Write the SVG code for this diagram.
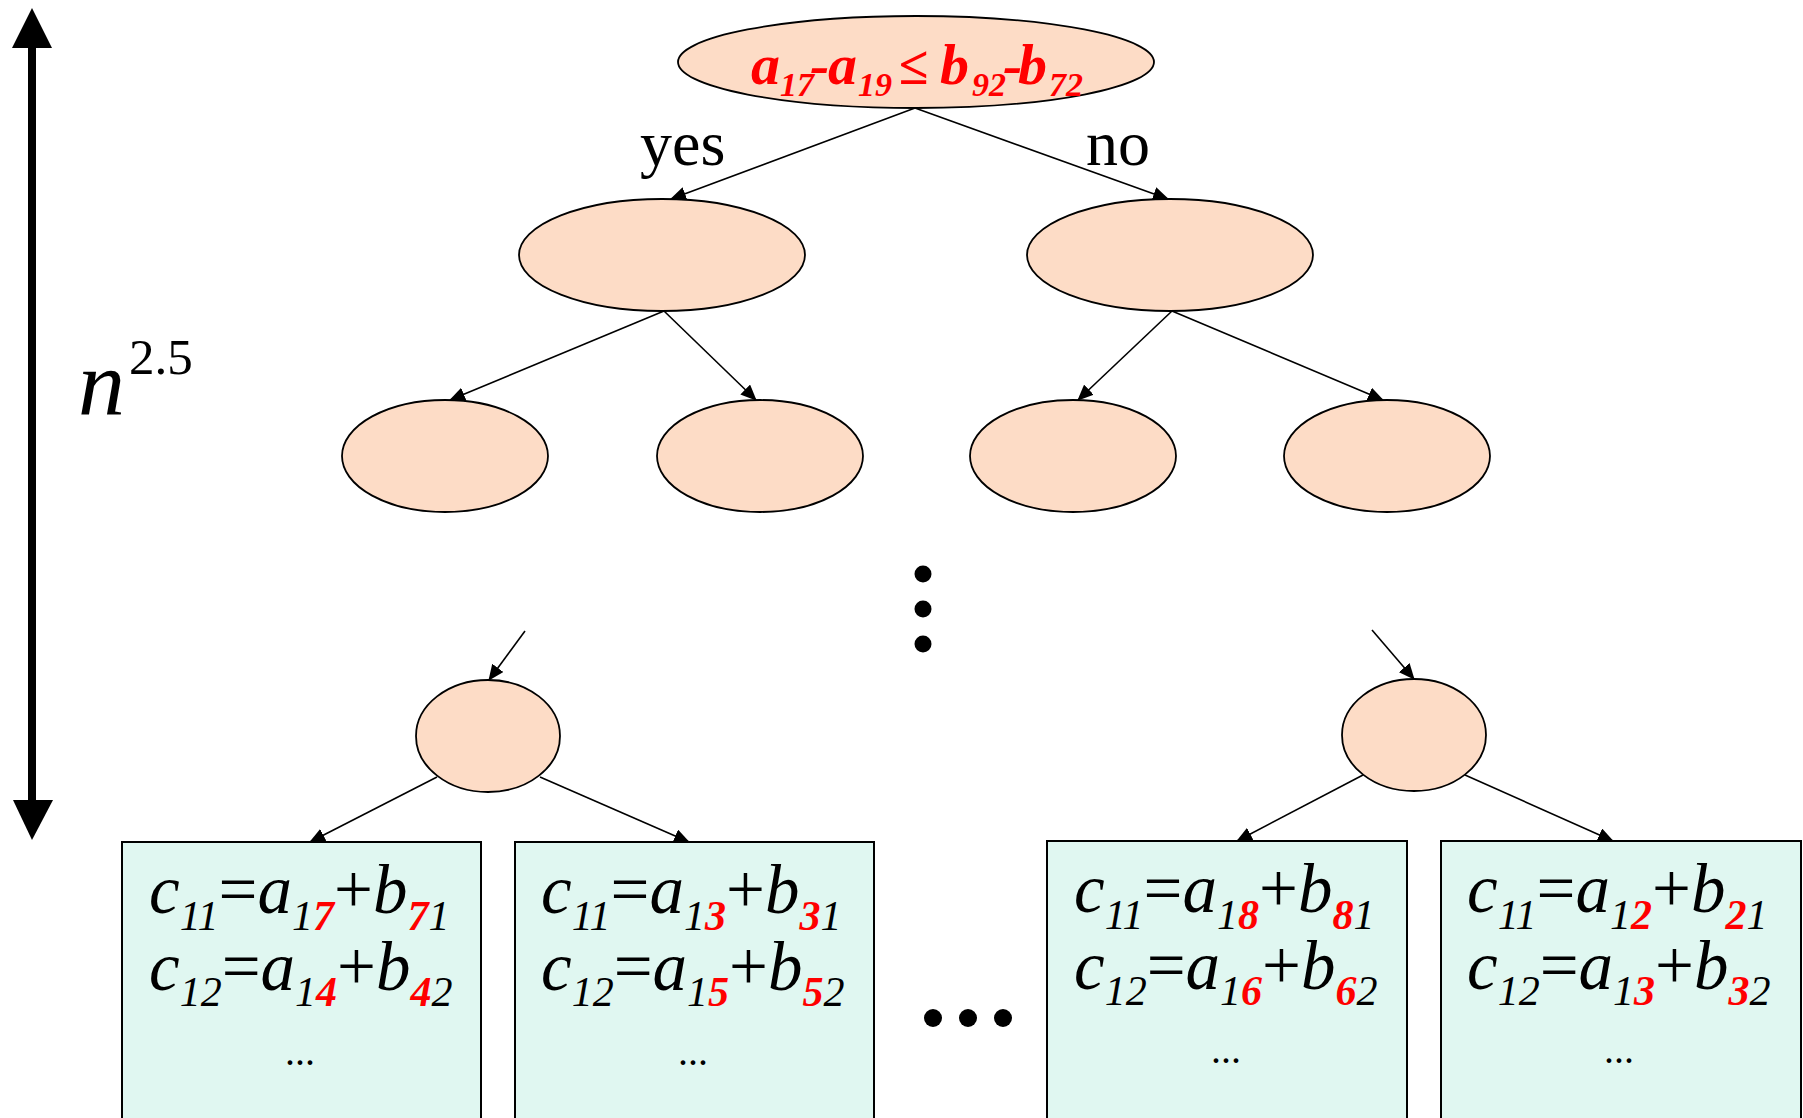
<svg xmlns="http://www.w3.org/2000/svg" width="1803" height="1118" viewBox="0 0 1803 1118">
  <style>
    .node { fill: #FDDCC6; stroke: #000; stroke-width: 1.8; }
    .leaf { fill: #E0F7F1; stroke: #000; stroke-width: 2; }
    .edge { stroke: #000; stroke-width: 1.6; fill: none; marker-end: url(#tip); }
    .serif { font-family: "Liberation Serif", "Times New Roman", serif; }
    .it { font-style: italic; }
    .red { fill: #FF0000; font-weight: bold; font-style: italic; }
    .main { font-size: 69px; }
    .sub { font-size: 42px; }
    .cond { font-family: "Liberation Serif", "Times New Roman", serif; fill: #FF0000; font-weight: bold; font-style: italic; }
    .dot { fill: #000; }
  </style>
  <defs>
    <marker id="tip" markerUnits="userSpaceOnUse" markerWidth="16" markerHeight="14" refX="15" refY="7" orient="auto">
      <path d="M0,0 L16,7 L0,14 z" fill="#000"/>
    </marker>
  </defs>

  <rect width="1803" height="1118" fill="#fff"/>

  <!-- depth axis -->
  <g id="depth-axis">
    <rect x="28" y="46" width="8" height="756" fill="#000"/>
    <polygon points="32,8 12,48 52,48" fill="#000"/>
    <polygon points="32,840 13,800 53,800" fill="#000"/>
    <text class="serif" x="78" y="415" font-size="94" font-style="italic">n</text>
    <text class="serif" x="129" y="374" font-size="51">2.5</text>
  </g>

  <!-- connectors -->
  <g id="edges">
    <line class="edge" x1="915" y1="108" x2="671" y2="199"/>
    <line class="edge" x1="915" y1="108" x2="1168" y2="199"/>
    <line class="edge" x1="664" y1="311" x2="450" y2="400"/>
    <line class="edge" x1="664" y1="311" x2="756" y2="400"/>
    <line class="edge" x1="1172" y1="311" x2="1078" y2="400"/>
    <line class="edge" x1="1172" y1="311" x2="1383" y2="400"/>
    <line class="edge" x1="525" y1="631" x2="489" y2="680"/>
    <line class="edge" x1="1372" y1="630" x2="1414" y2="679"/>
    <line class="edge" x1="437" y1="777" x2="310" y2="842"/>
    <line class="edge" x1="540" y1="777" x2="689" y2="842"/>
    <line class="edge" x1="1363" y1="775" x2="1237" y2="841"/>
    <line class="edge" x1="1465" y1="775" x2="1613" y2="841"/>
  </g>

  <!-- branch labels -->
  <g id="labels" class="serif" font-size="64">
    <text x="640" y="165">yes</text>
    <text x="1086" y="165">no</text>
  </g>

  <!-- root comparison -->
  <g id="root">
    <ellipse class="node" cx="916" cy="62" rx="238" ry="46"/>
    <text class="cond">
      <tspan x="751" y="84" font-size="58">a</tspan><tspan x="780" y="96" font-size="34">17</tspan><tspan x="810" y="84" font-size="58">-</tspan><tspan x="828" y="84" font-size="58">a</tspan><tspan x="858" y="96" font-size="34">19</tspan><tspan x="899" y="84" font-size="54" font-style="normal">≤</tspan><tspan x="940" y="84" font-size="58">b</tspan><tspan x="972" y="96" font-size="34">92</tspan><tspan x="1003" y="84" font-size="58">-</tspan><tspan x="1018" y="84" font-size="58">b</tspan><tspan x="1049" y="96" font-size="34">72</tspan>
    </text>
  </g>

  <!-- internal nodes -->
  <g id="n-yes"><ellipse class="node" cx="662" cy="255" rx="143" ry="56"/></g>
  <g id="n-no"><ellipse class="node" cx="1170" cy="255" rx="143" ry="56"/></g>
  <g id="n-yy"><ellipse class="node" cx="445" cy="456" rx="103" ry="56"/></g>
  <g id="n-yn"><ellipse class="node" cx="760" cy="456" rx="103" ry="56"/></g>
  <g id="n-ny"><ellipse class="node" cx="1073" cy="456" rx="103" ry="56"/></g>
  <g id="n-nn"><ellipse class="node" cx="1387" cy="456" rx="103" ry="56"/></g>

  <!-- elision dots -->
  <g id="vdots">
    <circle class="dot" cx="923" cy="574" r="8.5"/>
    <circle class="dot" cx="923" cy="609" r="8.5"/>
    <circle class="dot" cx="923" cy="644" r="8.5"/>
  </g>
  <g id="hdots">
    <circle class="dot" cx="933" cy="1018" r="9"/>
    <circle class="dot" cx="968" cy="1018" r="9"/>
    <circle class="dot" cx="1003" cy="1018" r="9"/>
  </g>

  <!-- last decision nodes -->
  <g id="n-last-left"><ellipse class="node" cx="488" cy="736" rx="72" ry="56"/></g>
  <g id="n-last-right"><ellipse class="node" cx="1414" cy="735" rx="72" ry="56"/></g>

  <!-- leaves -->
  <g id="leaf-7">
    <rect class="leaf" x="122" y="842" width="359" height="290"/>
    <text class="serif main"><tspan class="it" x="149" y="913">c</tspan><tspan class="it sub" y="930">11</tspan><tspan y="913">=</tspan><tspan class="it" y="913">a</tspan><tspan class="it sub" y="930">1</tspan><tspan class="red sub" y="930">7</tspan><tspan y="913">+</tspan><tspan class="it" y="913">b</tspan><tspan class="red sub" y="930">7</tspan><tspan class="it sub" y="930">1</tspan></text>
    <text class="serif main"><tspan class="it" x="149" y="990">c</tspan><tspan class="it sub" y="1006">12</tspan><tspan y="990">=</tspan><tspan class="it" y="990">a</tspan><tspan class="it sub" y="1006">1</tspan><tspan class="red sub" y="1006">4</tspan><tspan y="990">+</tspan><tspan class="it" y="990">b</tspan><tspan class="red sub" y="1006">4</tspan><tspan class="it sub" y="1006">2</tspan></text>
    <text class="serif" x="300" y="1065" font-size="40" text-anchor="middle">...</text>
  </g>
  <g id="leaf-3">
    <rect class="leaf" x="515" y="842" width="359" height="290"/>
    <text class="serif main"><tspan class="it" x="541" y="913">c</tspan><tspan class="it sub" y="930">11</tspan><tspan y="913">=</tspan><tspan class="it" y="913">a</tspan><tspan class="it sub" y="930">1</tspan><tspan class="red sub" y="930">3</tspan><tspan y="913">+</tspan><tspan class="it" y="913">b</tspan><tspan class="red sub" y="930">3</tspan><tspan class="it sub" y="930">1</tspan></text>
    <text class="serif main"><tspan class="it" x="541" y="990">c</tspan><tspan class="it sub" y="1006">12</tspan><tspan y="990">=</tspan><tspan class="it" y="990">a</tspan><tspan class="it sub" y="1006">1</tspan><tspan class="red sub" y="1006">5</tspan><tspan y="990">+</tspan><tspan class="it" y="990">b</tspan><tspan class="red sub" y="1006">5</tspan><tspan class="it sub" y="1006">2</tspan></text>
    <text class="serif" x="693" y="1065" font-size="40" text-anchor="middle">...</text>
  </g>
  <g id="leaf-8">
    <rect class="leaf" x="1047" y="841" width="360" height="290"/>
    <text class="serif main"><tspan class="it" x="1074" y="912">c</tspan><tspan class="it sub" y="929">11</tspan><tspan y="912">=</tspan><tspan class="it" y="912">a</tspan><tspan class="it sub" y="929">1</tspan><tspan class="red sub" y="929">8</tspan><tspan y="912">+</tspan><tspan class="it" y="912">b</tspan><tspan class="red sub" y="929">8</tspan><tspan class="it sub" y="929">1</tspan></text>
    <text class="serif main"><tspan class="it" x="1074" y="989">c</tspan><tspan class="it sub" y="1005">12</tspan><tspan y="989">=</tspan><tspan class="it" y="989">a</tspan><tspan class="it sub" y="1005">1</tspan><tspan class="red sub" y="1005">6</tspan><tspan y="989">+</tspan><tspan class="it" y="989">b</tspan><tspan class="red sub" y="1005">6</tspan><tspan class="it sub" y="1005">2</tspan></text>
    <text class="serif" x="1226" y="1063" font-size="40" text-anchor="middle">...</text>
  </g>
  <g id="leaf-2">
    <rect class="leaf" x="1441" y="841" width="360" height="290"/>
    <text class="serif main"><tspan class="it" x="1467" y="912">c</tspan><tspan class="it sub" y="929">11</tspan><tspan y="912">=</tspan><tspan class="it" y="912">a</tspan><tspan class="it sub" y="929">1</tspan><tspan class="red sub" y="929">2</tspan><tspan y="912">+</tspan><tspan class="it" y="912">b</tspan><tspan class="red sub" y="929">2</tspan><tspan class="it sub" y="929">1</tspan></text>
    <text class="serif main"><tspan class="it" x="1467" y="989">c</tspan><tspan class="it sub" y="1005">12</tspan><tspan y="989">=</tspan><tspan class="it" y="989">a</tspan><tspan class="it sub" y="1005">1</tspan><tspan class="red sub" y="1005">3</tspan><tspan y="989">+</tspan><tspan class="it" y="989">b</tspan><tspan class="red sub" y="1005">3</tspan><tspan class="it sub" y="1005">2</tspan></text>
    <text class="serif" x="1619" y="1063" font-size="40" text-anchor="middle">...</text>
  </g>
</svg>
